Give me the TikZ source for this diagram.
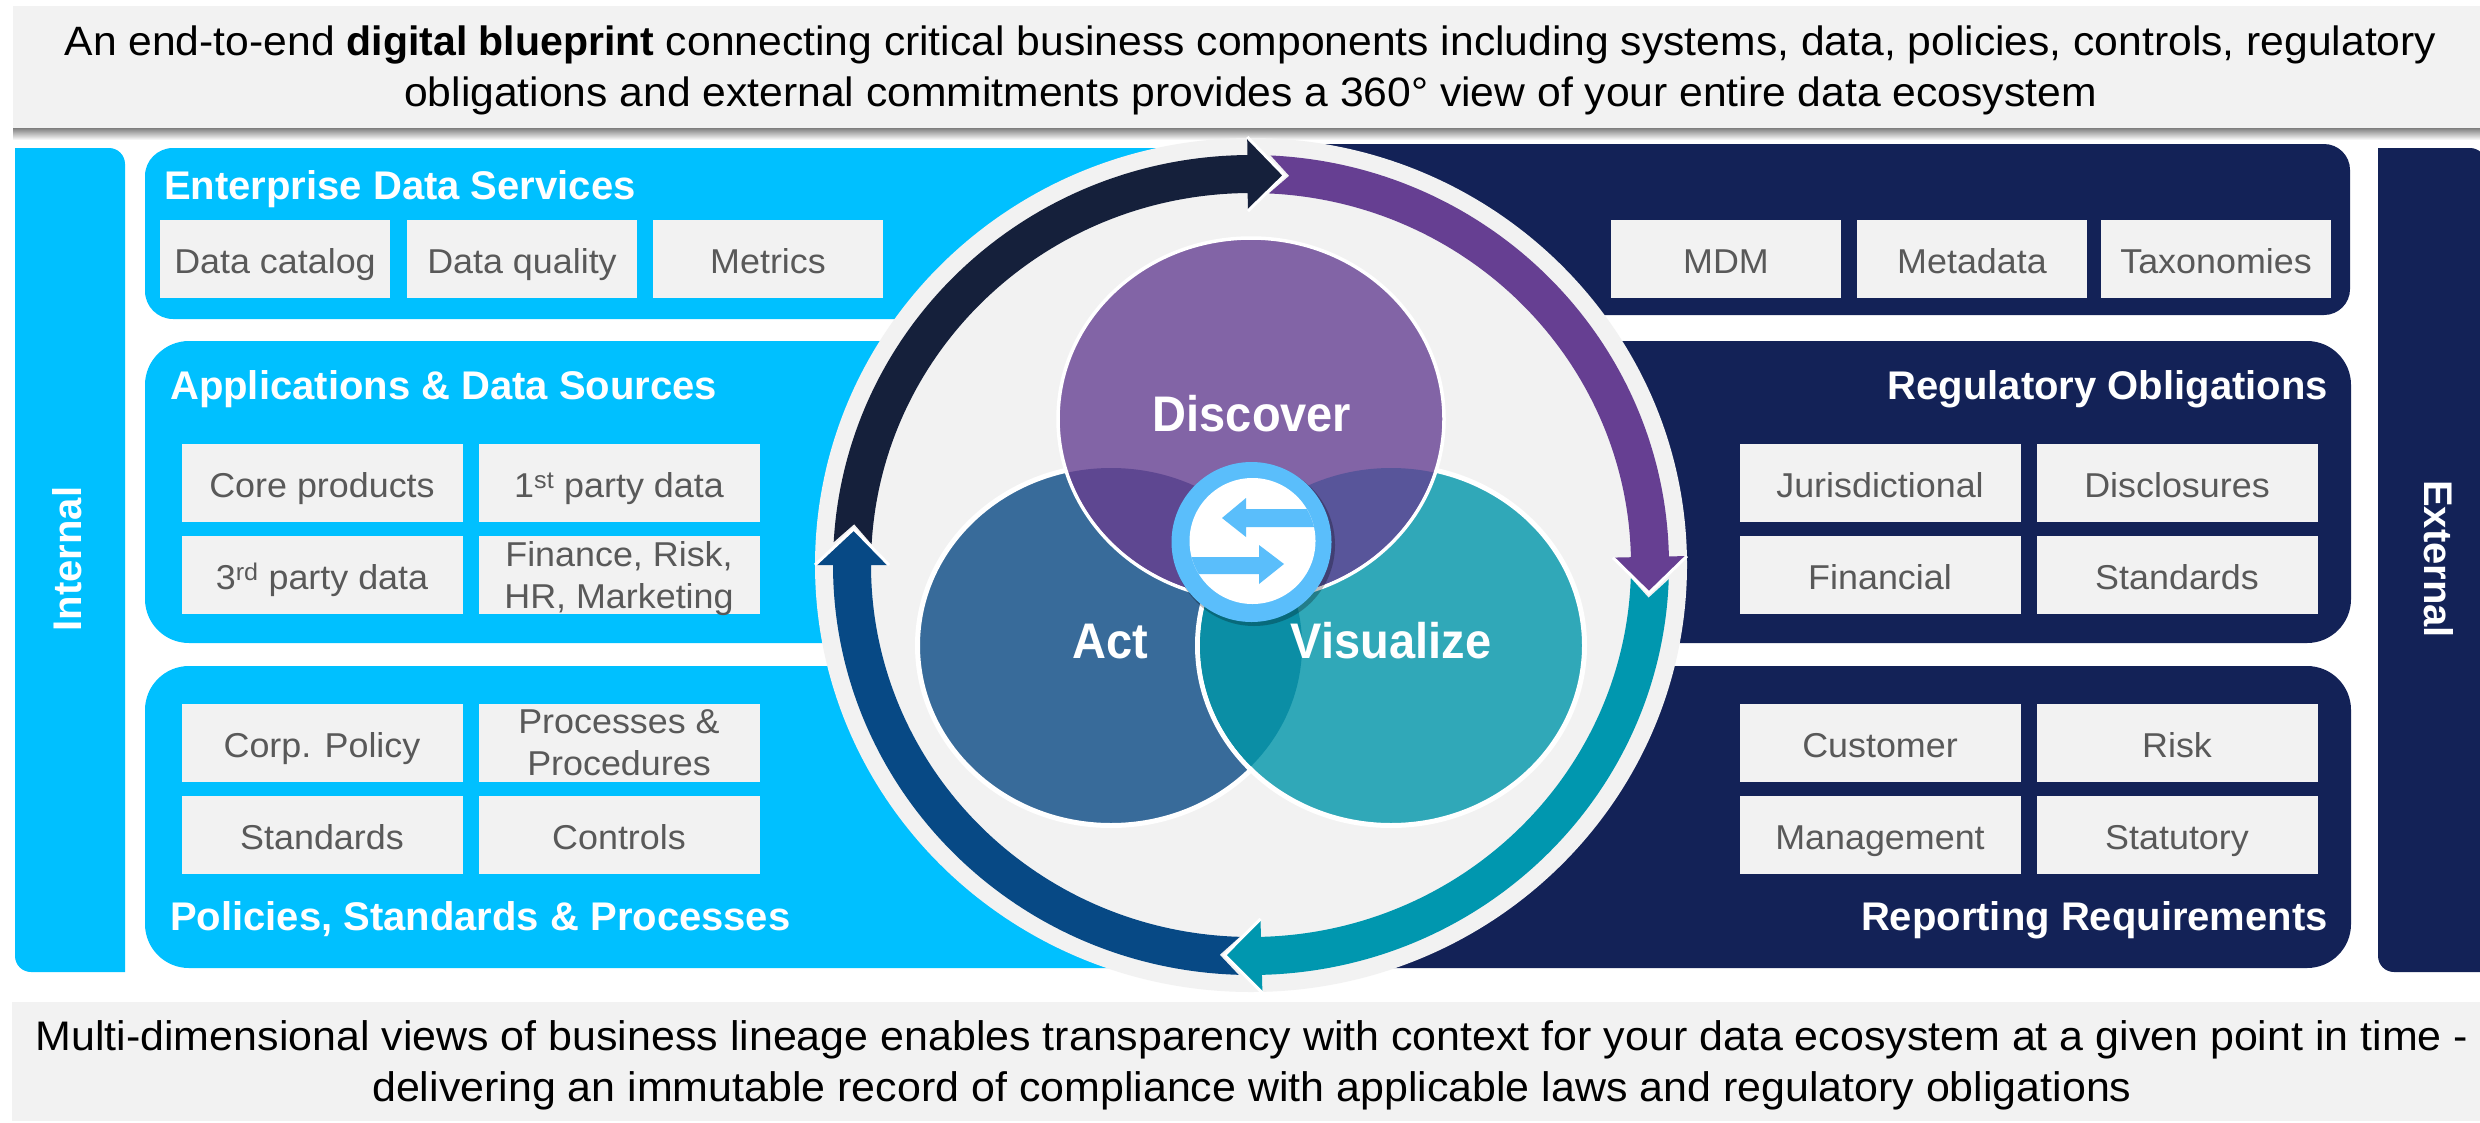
\documentclass[tikz,border=0pt]{standalone}
\usepackage{fontspec}
\setmainfont[FakeStretch=1.04,BoldFeatures={FakeStretch=1}]{Liberation Sans}
\newfontfamily\hubfont[FakeStretch=.94]{Liberation Sans Bold}
\definecolor{skyfill}{HTML}{00C0FF}
\definecolor{navyfill}{HTML}{132257}
\definecolor{panelgrey}{HTML}{F2F2F2}
\definecolor{greytext}{HTML}{595959}
\definecolor{inkarrow}{HTML}{15203B}
\definecolor{purplearrow}{HTML}{663F92}
\definecolor{tealarrow}{HTML}{0097AF}
\definecolor{bluearrow}{HTML}{074985}
\definecolor{discoverfill}{HTML}{8264A6}
\definecolor{actfill}{HTML}{386B9A}
\definecolor{visfill}{HTML}{30A8B8}
\definecolor{actdiscover}{HTML}{5E4791}
\definecolor{visdiscover}{HTML}{58559A}
\definecolor{actvis}{HTML}{0B8EA5}
\definecolor{hubblue}{HTML}{5ABEFB}
\def\ringpt#1#2{({1251+(399+#2)*cos(#1)},{565+(391+#2)*sin(#1)})}
\newcommand{\ringarrow}[3]{%
\fill[#1] \ringpt{#2+3.2}{19} arc[start angle=#2+3.2,end angle=#3,x radius=418,y radius=410]
  -- \ringpt{#3}{36} -- \ringpt{#3+5.3}{0} -- \ringpt{#3}{-36} -- \ringpt{#3}{-19}
  arc[start angle=#3,end angle=#2+3.2,x radius=380,y radius=372] -- \ringpt{#2+6}{0} -- cycle;
\draw[white,line width=3pt,line join=miter] \ringpt{#3}{37} -- \ringpt{#3+5.3}{0} -- \ringpt{#3}{-37};}
\tikzset{
  cellfill/.style={fill=panelgrey,text=greytext,minimum width=#1,minimum height=78pt,inner sep=0pt,align=center,
    font=\fontsize{34.5}{42}\selectfont},
  cellfill/.default=281pt,
  cellbox/.style={cellfill=#1,text height=29pt,text depth=0pt},
  cellbox/.default=281pt,
  paneltitle/.style={text=white,inner sep=0pt,font=\fontsize{40}{48}\selectfont\bfseries},
  banner/.style={inner sep=0pt,align=center,font=\fontsize{#1}{51}\selectfont},
  banner/.default=41,
  hublabel/.style={text=white,inner sep=0pt,anchor=base,font=\fontsize{50}{60}\hubfont}
}
\begin{document}
\begin{tikzpicture}[x=1pt,y=-1pt]
\useasboundingbox (0,0) rectangle (2480,1122);
\fill[white] (0,0) rectangle (2480,1122);
\fill[panelgrey] (13,6) rectangle (2480,128);
\shade[top color=black!50,bottom color=white] (13,128) rectangle (2480,140);
\fill[panelgrey] (12,1002) rectangle (2480,1121);
\node[banner] (topbanner) at (1250.5,70.3)
  {\strut An end-to-end \textbf{digital blueprint} connecting critical business components including systems, data, policies, controls, regulatory\\
  \strut obligations and external commitments provides a 360° view of your entire data ecosystem};
\node[banner=41.3] (bottombanner) at (1252,1066)
  {\strut Multi-dimensional views of business lineage enables transparency with context for your data ecosystem at a given point in time -\\
  \strut delivering an immutable record of compliance with applicable laws and regulatory obligations};
\fill[skyfill] (15,148) -- (109,148) arc[start angle=-90,end angle=0,radius=16] -- (125,972) -- (31,972) arc[start angle=90,end angle=180,radius=16] -- cycle;
\fill[navyfill] (2378,148) -- (2470,148) arc[start angle=-90,end angle=0,radius=16] -- (2486,972) -- (2394,972) arc[start angle=90,end angle=180,radius=16] -- cycle;
\fill[skyfill,rounded corners=28pt] (145,148) rectangle (1300,319);
\fill[skyfill,rounded corners=44pt] (145,341) rectangle (1300,643);
\fill[skyfill,rounded corners=44pt] (145,666) rectangle (1300,968);
\fill[navyfill,rounded corners=26pt] (1200,144) rectangle (2350,315);
\fill[navyfill,rounded corners=44pt] (1200,341) rectangle (2351,643);
\fill[navyfill,rounded corners=44pt] (1200,666) rectangle (2351,968);
\node[paneltitle,rotate=90] (internal) at (67,559) {Internal};
\node[paneltitle,rotate=-90] (external) at (2439,559) {External};
\node[paneltitle,anchor=base west] (services) at (164,199) {Enterprise Data Services};
\node[paneltitle,anchor=base west] (sources) at (170,399) {Applications \& Data Sources};
\node[paneltitle,anchor=base west] (policies) at (170,930) {Policies, Standards \& Processes};
\node[paneltitle,anchor=base east] (obligations) at (2328,399) {Regulatory Obligations};
\node[paneltitle,anchor=base east] (reporting) at (2328,930) {Reporting Requirements};
\node[cellbox=230pt] (catalog) at (275,259) {Data catalog};
\node[cellbox=230pt] (quality) at (522,259) {Data quality};
\node[cellbox=230pt] (metrics) at (768,259) {Metrics};
\node[cellbox=230pt] (mdm) at (1726,259) {MDM};
\node[cellbox=230pt] (metadata) at (1972,259) {Metadata};
\node[cellbox=230pt] (taxonomies) at (2216,259) {Taxonomies};
\node[cellbox] (core) at (322,483) {Core products};
\node[cellbox] (first) at (619,483) {1\textsuperscript{st} party data};
\node[cellbox] (third) at (322,575) {3\textsuperscript{rd} party data};
\node[cellfill] (finance) at (619,575) {Finance, Risk,\\\smash{HR, Marketing}};
\node[cellbox] (corp) at (322,743) {Corp. Policy};
\node[cellfill] (processes) at (619,743) {Processes \&\\Procedures};
\node[cellbox] (standardsl) at (322,835) {Standards};
\node[cellbox] (controls) at (619,835) {Controls};
\node[cellbox] (jurisdictional) at (1880,483) {Jurisdictional};
\node[cellbox] (disclosures) at (2177,483) {Disclosures};
\node[cellbox] (financial) at (1880,575) {Financial};
\node[cellbox] (standardsr) at (2177,575) {Standards};
\node[cellbox] (customer) at (1880,743) {Customer};
\node[cellbox] (risk) at (2177,743) {Risk};
\node[cellbox] (management) at (1880,835) {Management};
\node[cellbox] (statutory) at (2177,835) {Statutory};
\fill[panelgrey] (1251,565) ellipse [x radius=436,y radius=427];
\ringarrow{inkarrow}{180}{269.5}
\ringarrow{purplearrow}{269.5}{358.8}
\ringarrow{tealarrow}{358.8}{448.5}
\ringarrow{bluearrow}{88.5}{180}
\draw[white,line width=5pt,fill=actfill] (1111,645.5) ellipse [x radius=193.5,y radius=180];
\draw[white,line width=5pt,fill=visfill] (1391,645.5) ellipse [x radius=193.5,y radius=180];
\begin{scope}
\clip (1111,645.5) ellipse [x radius=191,y radius=177.5];
\fill[actvis] (1391,645.5) ellipse [x radius=191,y radius=177.5];
\end{scope}
\draw[white,line width=3.5pt,fill=discoverfill] (1251,419) ellipse [x radius=193,y radius=181];
\begin{scope}
\clip (1251,419) ellipse [x radius=191,y radius=179];
\fill[actdiscover] (1111,645.5) ellipse [x radius=191,y radius=177.5];
\fill[visdiscover] (1391,645.5) ellipse [x radius=191,y radius=177.5];
\end{scope}
\node[hublabel] (discover) at (1252,431) {Discover};
\node[hublabel] (act) at (1110,658) {Act};
\node[hublabel] (visualize) at (1391,658) {Visualize};
\fill[black,opacity=.25] (1254,545) circle (81);
\fill[hubblue] (1251.5,542) circle (80);
\fill[white] (1252.5,541) circle (63);
\begin{scope}
\clip (1252.5,541) circle (63);
\fill[hubblue] (1330,509) -- (1246,509) -- (1246,498) -- (1222,518) -- (1246,537) -- (1246,527) -- (1330,527) -- cycle;
\fill[hubblue] (1170,557) -- (1259,557) -- (1259,545) -- (1284,564) -- (1259,584) -- (1259,574) -- (1170,574) -- cycle;
\end{scope}
\end{tikzpicture}
\end{document}
